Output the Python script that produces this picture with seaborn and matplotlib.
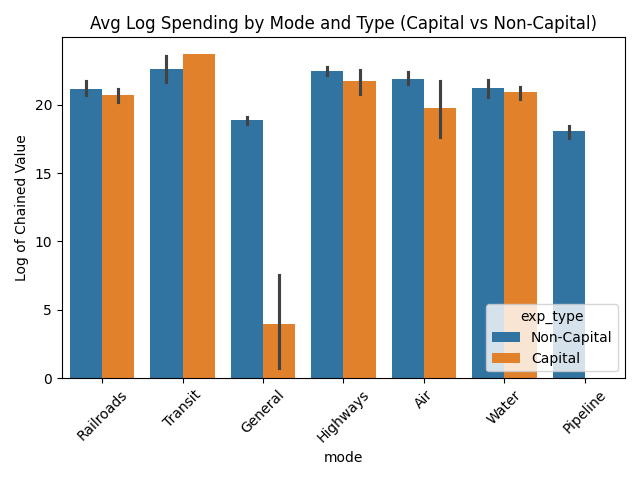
import pandas as pd
import matplotlib
matplotlib.use("Agg")
import matplotlib.pyplot as plt
import seaborn as sns

modes = ["Railroads", "Transit", "General", "Highways", "Air", "Water", "Pipeline"]
types = ["Non-Capital", "Capital"]

# log chained values per mode (a few observations each)
non_capital = [
    [20.68, 21.70, 21.13],
    [21.63, 23.54, 22.75],
    [18.60, 19.12, 18.98],
    [22.20, 22.78, 22.49],
    [21.50, 22.40, 21.80],
    [20.60, 21.83, 21.32],
    [17.60, 18.46, 18.24],
]
capital = [
    [20.17, 21.17, 20.85],
    [23.74],
    [0.73, 7.55, 3.60],
    [20.80, 22.56, 21.92],
    [17.66, 21.76, 19.92],
    [20.40, 21.30, 21.15],
    [],
]

rows = []
for m, vals in zip(modes, non_capital):
    for v in vals:
        rows.append({"mode": m, "exp_type": "Non-Capital", "log_value": v})
for m, vals in zip(modes, capital):
    for v in vals:
        rows.append({"mode": m, "exp_type": "Capital", "log_value": v})
df = pd.DataFrame(rows)

fig, ax = plt.subplots(figsize=(6.4, 4.8))
sns.barplot(data=df, x="mode", y="log_value", hue="exp_type",
            order=modes, hue_order=types, errorbar=("pi", 100), ax=ax)
ax.set_title("Avg Log Spending by Mode and Type (Capital vs Non-Capital)")
ax.set_ylabel("Log of Chained Value")
ax.set_xlabel("mode")
plt.xticks(rotation=45)
sns.move_legend(ax, "lower right", title="exp_type")
plt.tight_layout()
plt.savefig("out.png", dpi=100)
